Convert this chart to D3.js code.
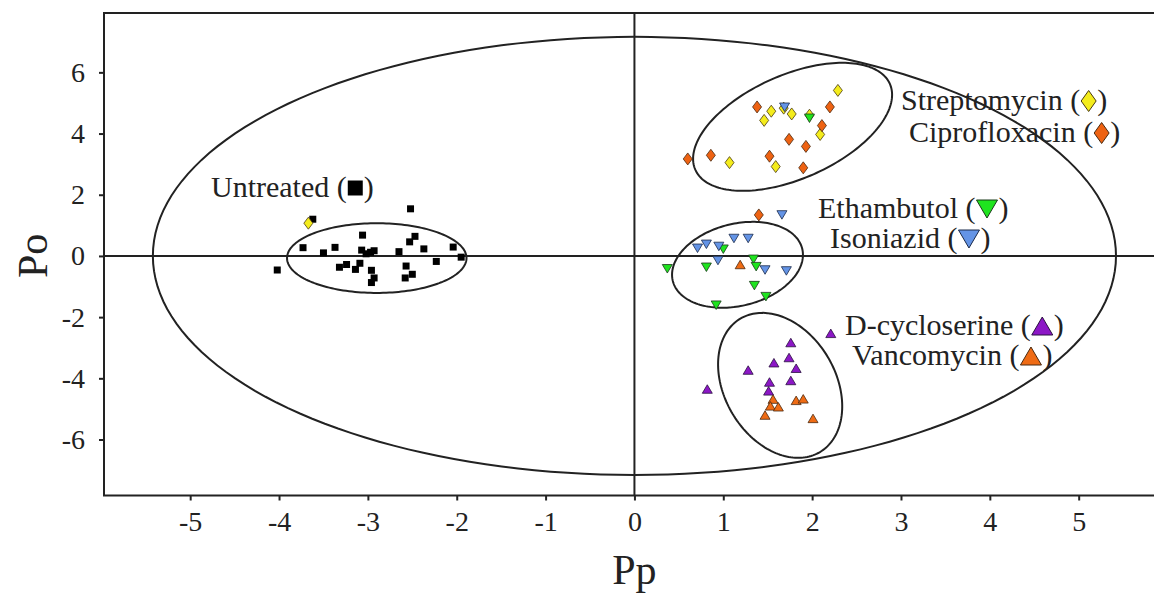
<!DOCTYPE html>
<html>
<head>
<meta charset="utf-8">
<script src="https://cdn.jsdelivr.net/npm/d3@7"></script>
<style>
  html, body { margin: 0; padding: 0; background: #fff; }
  svg { display: block; }
  text { font-family: "Liberation Serif", "Times New Roman", serif; fill: #222; }
</style>
</head>
<body>
<svg id="chart" width="1154" height="594"></svg>
<script>
// ---------------- DATA ----------------
const xTicks = [-5, -4, -3, -2, -1, 0, 1, 2, 3, 4, 5];
const yTicks = [-6, -4, -2, 0, 2, 4, 6];

const untreatedX = [-4.02, -3.73, -3.62, -3.50, -3.37, -3.32, -3.24, -3.14, -3.09, -3.06, -3.07, -3.02, -2.97, -2.93,
                    -2.96, -2.93, -2.96, -2.65, -2.57, -2.58, -2.50, -2.53, -2.47, -2.52, -2.37, -2.23, -2.04, -1.95];
const untreatedY = [-0.46, 0.27, 1.20, 0.10, 0.28, -0.37, -0.28, -0.44, -0.24, 0.68, 0.19, 0.07, 0.12, 0.17,
                    -0.47, -0.72, -0.87, 0.14, -0.33, -0.72, -0.60, 0.46, 0.64, 1.54, 0.23, -0.18, 0.29, -0.04];

const streptomycinX = [2.29, 1.54, 1.46, 1.77, 1.68, 1.97, 2.09, 1.07, 1.59, -3.67];
const streptomycinY = [5.41, 4.73, 4.43, 4.64, 4.83, 4.60, 3.97, 3.05, 2.92, 1.07];

const ciprofloxacinX = [0.60, 0.86, 1.38, 1.74, 1.93, 1.52, 1.90, 2.20, 2.11, 1.40];
const ciprofloxacinY = [3.17, 3.29, 4.87, 3.81, 3.58, 3.26, 2.88, 4.87, 4.26, 1.34];

const ethambutolX = [1.97, 1.00, 0.37, 0.81, 1.34, 1.37, 1.35, 1.48, 0.92];
const ethambutolY = [4.50, 0.22, -0.42, -0.37, -0.11, -0.35, -0.97, -1.33, -1.61];

const isoniazidX = [1.69, 1.66, 1.12, 1.28, 0.81, 0.71, 0.95, 0.94, 1.47, 1.71];
const isoniazidY = [4.86, 1.34, 0.57, 0.57, 0.38, 0.25, 0.31, -0.15, -0.46, -0.49];

const dcycloserineX = [2.21, 1.76, 1.74, 1.57, 1.28, 1.82, 1.76, 1.52, 1.51, 0.82];
const dcycloserineY = [-2.53, -2.83, -3.32, -3.49, -3.73, -3.67, -4.07, -4.12, -4.41, -4.35];

const vancomycinX = [1.19, 1.56, 1.53, 1.62, 1.82, 1.90, 1.47, 2.01];
const vancomycinY = [-0.28, -4.68, -4.90, -4.93, -4.72, -4.67, -5.20, -5.31];

// ellipses: centre and two conjugate semi-diameters (data units)
const ellipseCx  = [0.00, -2.90, 1.78, 1.16, 1.64];
const ellipseCy  = [0.00, -0.07, 4.22, -0.29, -4.23];
const ellipseAx  = [5.42, 1.01, 1.095, 0.728, 0.448];
const ellipseAy  = [0.00, 0.00, 1.402, 0.530, -2.18];
const ellipseBx  = [0.00, 0.00, 0.235, 0.1125, -0.536];
const ellipseBy  = [7.16, 1.14, -1.552, -1.30, -0.928];

const seriesNames = ["Untreated", "Streptomycin", "Ciprofloxacin", "Ethambutol", "Isoniazid", "D-cycloserine", "Vancomycin"];

// ---------------- STYLE / LAYOUT ----------------
const svg = d3.select("#chart");
const plotLeft = 104, plotTop = 13, plotBottom = 495.5;
const x = d3.scaleLinear().domain([-5.97, 5.95]).range([plotLeft, plotLeft + 11.92 * 88.85]);
const y = d3.scaleLinear().domain([-7.83, 7.94]).range([plotBottom, plotTop]);
const ink = "#222";

const series = [
  { name: seriesNames[0], xs: untreatedX, ys: untreatedY, shape: "square", fill: "#000", stroke: "none" },
  { name: seriesNames[1], xs: streptomycinX, ys: streptomycinY, shape: "diamond", fill: "#f4ec1c", stroke: "#4a3a10" },
  { name: seriesNames[2], xs: ciprofloxacinX, ys: ciprofloxacinY, shape: "diamond", fill: "#ee6212", stroke: "#4a2a10" },
  { name: seriesNames[3], xs: ethambutolX, ys: ethambutolY, shape: "down", fill: "#1fe41f", stroke: "#1a3a1a" },
  { name: seriesNames[4], xs: isoniazidX, ys: isoniazidY, shape: "down", fill: "#6494e6", stroke: "#1a2a4a" },
  { name: seriesNames[5], xs: dcycloserineX, ys: dcycloserineY, shape: "up", fill: "#8c17c6", stroke: "#2a1040" },
  { name: seriesNames[6], xs: vancomycinX, ys: vancomycinY, shape: "up", fill: "#ef6b14", stroke: "#4a2a10" }
];

function shapePath(shape, w, h) {
  const p = d3.path();
  if (shape === "square") {
    p.rect(-w / 2, -h / 2, w, h);
  } else if (shape === "diamond") {
    p.moveTo(0, -h / 2); p.lineTo(w / 2, 0); p.lineTo(0, h / 2); p.lineTo(-w / 2, 0); p.closePath();
  } else if (shape === "down") {
    p.moveTo(-w / 2, -h / 2); p.lineTo(w / 2, -h / 2); p.lineTo(0, h / 2); p.closePath();
  } else {
    p.moveTo(-w / 2, h / 2); p.lineTo(w / 2, h / 2); p.lineTo(0, -h / 2); p.closePath();
  }
  return p.toString();
}
const markerSize = { square: [7, 7], diamond: [9, 12], down: [10, 8.5], up: [10, 8.5] };
const legendSize = { square: [15, 15], diamond: [15, 21], down: [21, 18], up: [21, 18] };

// ---------------- AXES ----------------
const xAxis = svg.append("g").attr("transform", `translate(0,${plotBottom})`)
  .call(d3.axisBottom(x).tickValues(xTicks).tickSize(5).tickPadding(11).tickFormat(d3.format("d")));
const yAxis = svg.append("g").attr("transform", `translate(${plotLeft},0)`)
  .call(d3.axisLeft(y).tickValues(yTicks).tickSize(5).tickPadding(14).tickFormat(d3.format("d")));
[xAxis, yAxis].forEach(a => {
  a.select(".domain").remove();
  a.selectAll(".tick line").attr("stroke", ink).attr("stroke-width", 2);
  a.selectAll(".tick text").attr("font-family", "Liberation Serif").attr("font-size", 28).attr("fill", ink)
    .text(d => d < 0 ? "-" + Math.abs(d) : d);
});

// frame (left, top, bottom)
svg.append("path")
  .attr("d", `M${x.range()[1]},${plotTop} L${plotLeft},${plotTop} L${plotLeft},${plotBottom} L${x.range()[1]},${plotBottom}`)
  .attr("fill", "none").attr("stroke", ink).attr("stroke-width", 2);

// zero lines
svg.append("line").attr("x1", plotLeft).attr("x2", x.range()[1]).attr("y1", y(0)).attr("y2", y(0))
  .attr("stroke", ink).attr("stroke-width", 2);
svg.append("line").attr("x1", x(0)).attr("x2", x(0)).attr("y1", plotTop).attr("y2", plotBottom)
  .attr("stroke", ink).attr("stroke-width", 2);

// axis titles
svg.append("text").attr("x", x(0)).attr("y", 584).attr("text-anchor", "middle")
  .attr("font-size", 42).text("Pp");
svg.append("text").attr("transform", `translate(47,${y(0)}) rotate(-90)`).attr("text-anchor", "middle")
  .attr("font-size", 42).text("Po");

// ---------------- ELLIPSES ----------------
const line = d3.line().curve(d3.curveLinearClosed);
ellipseCx.forEach((cx, i) => {
  const pts = d3.range(0, 360, 2).map(deg => {
    const t = deg * Math.PI / 180;
    const dx = cx + ellipseAx[i] * Math.cos(t) + ellipseBx[i] * Math.sin(t);
    const dy = ellipseCy[i] + ellipseAy[i] * Math.cos(t) + ellipseBy[i] * Math.sin(t);
    return [x(dx), y(dy)];
  });
  svg.append("path").attr("d", line(pts)).attr("fill", "none").attr("stroke", ink).attr("stroke-width", 2);
});

// ---------------- POINTS ----------------
series.forEach(s => {
  const [w, h] = markerSize[s.shape];
  svg.append("g").selectAll("path").data(s.xs.map((v, i) => [v, s.ys[i]])).join("path")
    .attr("transform", d => `translate(${x(d[0])},${y(d[1])})`)
    .attr("d", shapePath(s.shape, w, h))
    .attr("fill", s.fill)
    .attr("stroke", s.stroke)
    .attr("stroke-width", s.stroke === "none" ? 0 : 0.8);
});

// ---------------- LABELS ----------------
const labels = [
  { si: 0, px: 211, py: 197 },
  { si: 1, px: 901, py: 110 },
  { si: 2, px: 909, py: 142 },
  { si: 3, px: 818, py: 218 },
  { si: 4, px: 830, py: 248 },
  { si: 5, px: 845, py: 335 },
  { si: 6, px: 852, py: 365 }
];
labels.forEach(l => {
  const s = series[l.si];
  const g = svg.append("g");
  const t1 = g.append("text").attr("x", l.px).attr("y", l.py).attr("font-size", 30).text(s.name + " (");
  const w1 = t1.node().getComputedTextLength();
  const [mw, mh] = legendSize[s.shape];
  const mx = l.px + w1 + mw / 2 + 1;
  g.append("path").attr("transform", `translate(${mx},${l.py - 9})`)
    .attr("d", shapePath(s.shape, mw, mh))
    .attr("fill", s.fill).attr("stroke", s.stroke).attr("stroke-width", s.stroke === "none" ? 0 : 1);
  g.append("text").attr("x", mx + mw / 2 + 1).attr("y", l.py).attr("font-size", 30).text(")");
});
</script>
</body>
</html>
